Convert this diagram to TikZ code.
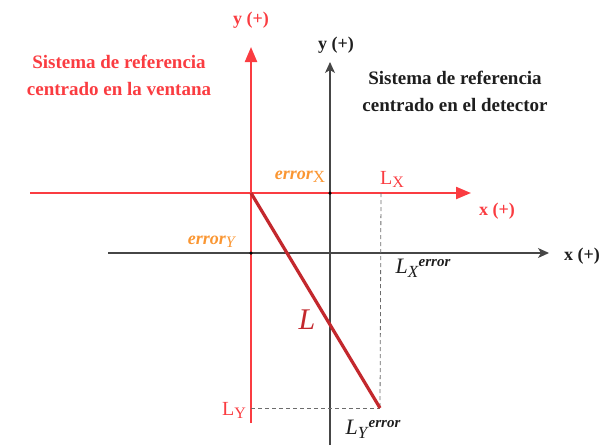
\documentclass[tikz,border=0pt]{standalone}
\usepackage{fontspec}
\setmainfont{Liberation Serif}
\usetikzlibrary{arrows.meta}
\definecolor{axred}{RGB}{250,60,65}
\definecolor{lred}{RGB}{195,40,45}
\definecolor{orng}{RGB}{250,150,50}
\definecolor{axblk}{RGB}{30,30,30}
\definecolor{axgray}{RGB}{70,70,70}
\newcommand{\fs}[1]{\fontsize{#1}{#1}\selectfont}
\begin{document}
\begin{tikzpicture}[x=1pt,y=-1pt,
  redaxis/.style={draw=axred,line width=2.2pt,-{Triangle[length=15pt,width=12pt]}},
  blkaxis/.style={draw=axgray,line width=1.2pt,-{Stealth[length=11pt,width=10pt,inset=3pt]}},
  guide/.style={draw=gray!85!black,dashed,dash pattern=on 4pt off 3pt,line width=0.8pt},
  lbl/.style={inner sep=0pt,font=\fs{18}\bfseries},
  dot/.style={circle,fill=black,inner sep=0pt,minimum size=3.5pt}]
\useasboundingbox (0,0) rectangle (609,445);
% coordinates
\coordinate (rb) at (251,423);
\coordinate (rt) at (251,47);
\coordinate (rl) at (30,193);
\coordinate (rr) at (471,193);
\coordinate (bb) at (330,445);
\coordinate (bt) at (330,62);
\coordinate (bl) at (108,253);
\coordinate (br) at (549,253);
\coordinate (o) at (251,193);
\coordinate (e) at (380,408);
\coordinate (lxtop) at (381,193);
\coordinate (lyl) at (251,408);
% axes
\draw[redaxis] (rb) -- (rt);
\draw[redaxis] (rl) -- (rr);
\draw[blkaxis] (bb) -- (bt);
\draw[blkaxis] (bl) -- (br);
% guides
\draw[guide] (lxtop) -- (e);
\draw[guide] (lyl) -- (e);
% L segment
\draw[lred,line width=3.2pt] (o) -- (e);
% dots
\node[dot] (d1) at (330,193) {};
\node[dot] (d2) at (251,253) {};
% labels
\node[lbl,text=axred] (ry) at (251,20) {y (+)};
\node[lbl,text=axblk] (by) at (336,45) {y (+)};
\node[lbl,text=axred] (rx) at (497,211) {x (+)};
\node[lbl,text=axblk] (bx) at (582,256) {x (+)};
\node[lbl,text=axred,align=center,font=\fontsize{19}{27}\selectfont\bfseries] (tr) at (119,75) {Sistema de referencia\\centrado en la ventana};
\node[lbl,text=axblk,align=center,font=\fontsize{19}{27}\selectfont\bfseries] (tb) at (455,91) {Sistema de referencia\\centrado en el detector};
\node[lbl,text=orng] (ex) at (300,177) {\fs{18}\textit{error}\raisebox{-3pt}{\fs{17}\mdseries X}};
\node[lbl,text=axred] (lx) at (392,179) {\fs{20}\mdseries L\raisebox{-3pt}{\fs{16}X}};
\node[lbl,text=orng] (ey) at (212,242) {\fs{18}\textit{error}\raisebox{-3pt}{\fs{16}\mdseries\textit{Y}}};
\node[lbl,text=axblk] (lxe) at (423,268) {\fs{22}\mdseries\textit{L}\raisebox{-4pt}{\fs{17}\textit{X}}\raisebox{7pt}{\fs{15}\bfseries\textit{error}}};
\node[lbl,text=lred] (ll) at (307,320) {\fs{30}\mdseries\textit{L}};
\node[lbl,text=axred] (ly) at (234,410) {\fs{20}\mdseries L\raisebox{-3pt}{\fs{16}Y}};
\node[lbl,text=axblk] (lye) at (373,429) {\fs{22}\mdseries\textit{L}\raisebox{-4pt}{\fs{17}\textit{Y}}\raisebox{7pt}{\fs{15}\bfseries\textit{error}}};
\end{tikzpicture}
\end{document}
